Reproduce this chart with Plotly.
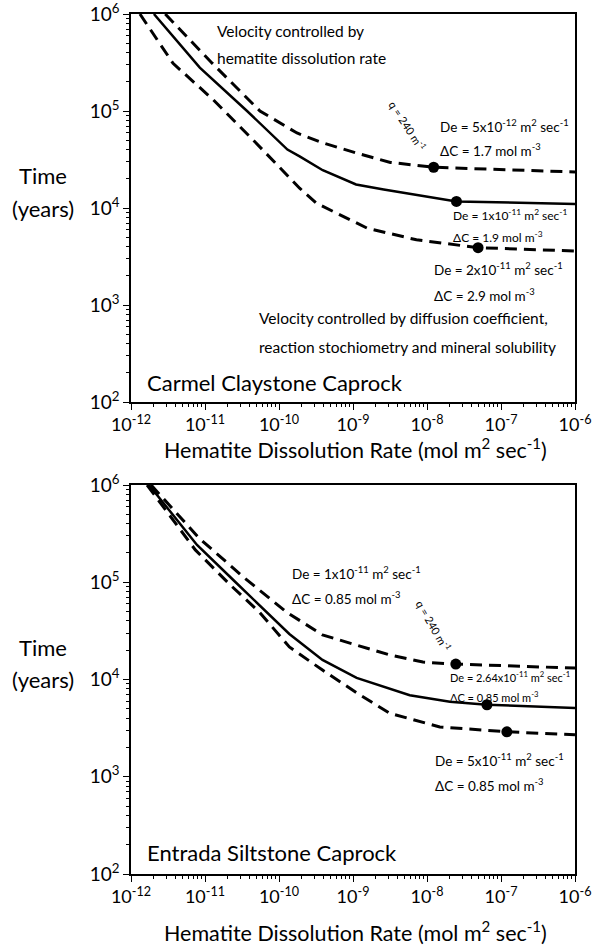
import plotly.graph_objects as go

# ---------------- data ----------------
# Carmel Claystone Caprock (top panel)
carmel_solid_rate = [2.04e-12, 8.5e-12, 3.7e-11, 1.3e-10, 1.9e-10, 3.9e-10, 1.1e-9, 2.6e-9, 2.5e-8, 1e-6]
carmel_solid_time = [1.0e6, 2.8e5, 1.0e5, 4.0e4, 3.4e4, 2.45e4, 1.75e4, 1.55e4, 1.17e4, 1.1e4]
carmel_upper_rate = [2.9e-12, 1.24e-11, 5.53e-11, 1.75e-10, 3.9e-10, 1.1e-9, 3.2e-9, 1.23e-8, 1e-6]
carmel_upper_time = [1.0e6, 3.13e5, 1.0e5, 5.93e4, 4.7e4, 3.7e4, 2.95e4, 2.63e4, 2.35e4]
carmel_lower_rate = [1.32e-12, 3.7e-12, 1.3e-11, 4.5e-11, 1.9e-10, 3.2e-10, 1.55e-9, 7.2e-9, 4.9e-8, 1e-6]
carmel_lower_time = [1.0e6, 3.1e5, 1.3e5, 5.0e4, 1.6e4, 1.12e4, 6.2e3, 4.7e3, 3.9e3, 3.6e3]
carmel_dot_rate = [1.23e-8, 2.5e-8, 4.9e-8]
carmel_dot_time = [2.63e4, 1.17e4, 3.9e3]

# Entrada Siltstone Caprock (bottom panel)
entrada_upper_rate = [1.87e-12, 8.3e-12, 3.4e-11, 1.26e-10, 3.87e-10, 1.12e-9, 3.13e-9, 8.8e-9, 2.45e-8, 1e-6]
entrada_upper_time = [1.0e6, 2.85e5, 1.11e5, 4.94e4, 2.87e4, 2.26e4, 1.79e4, 1.51e4, 1.44e4, 1.31e4]
entrada_solid_rate = [1.75e-12, 7.8e-12, 2.49e-11, 1.38e-10, 3.87e-10, 1.12e-9, 5.85e-9, 2.04e-8, 6.46e-8, 1e-6]
entrada_solid_time = [1.0e6, 2.42e5, 1.03e5, 2.94e4, 1.59e4, 1.04e4, 6.9e3, 5.9e3, 5.5e3, 5.1e3]
entrada_lower_rate = [1.65e-12, 7.4e-12, 2.19e-11, 5.42e-11, 1.38e-10, 3.87e-10, 1.12e-9, 3.13e-9, 1.49e-8, 1.2e-7, 1e-6]
entrada_lower_time = [1.0e6, 2.15e5, 9.4e4, 4.94e4, 2.16e4, 1.25e4, 7.3e3, 4.5e3, 3.25e3, 2.9e3, 2.7e3]
entrada_dot_rate = [2.45e-8, 6.46e-8, 1.2e-7]
entrada_dot_time = [1.44e4, 5.5e3, 2.9e3]

x_tick_vals = [1e-12, 1e-11, 1e-10, 1e-9, 1e-8, 1e-7, 1e-6]
x_tick_text = ["10<sup>-12</sup>", "10<sup>-11</sup>", "10<sup>-10</sup>", "10<sup>-9</sup>",
               "10<sup>-8</sup>", "10<sup>-7</sup>", "10<sup>-6</sup>"]
y_tick_vals = [1e2, 1e3, 1e4, 1e5, 1e6]
y_tick_text = ["10<sup>2</sup>", "10<sup>3</sup>", "10<sup>4</sup>", "10<sup>5</sup>", "10<sup>6</sup>"]
minor_digits = [2, 3, 4, 5, 6, 7, 8, 9]

# ---------------- figure ----------------
# the page body margin is removed (post_script below), so the figure
# fills the whole 594x945 window
W, H = 594, 945
FONT = "Lato, 'Open Sans', sans-serif"

def px_x(p):
    return p / W

def px_y(p):
    return 1 - p / H

fig = go.Figure()

DASH = "12px,7px"

def add_panel(xa, ya, solid, upper, lower, dots):
    common = dict(xaxis=xa, yaxis=ya, mode="lines", showlegend=False, hoverinfo="skip")
    fig.add_trace(go.Scatter(x=upper[0], y=upper[1], line=dict(color="black", width=3, dash=DASH), **common))
    fig.add_trace(go.Scatter(x=lower[0], y=lower[1], line=dict(color="black", width=3, dash=DASH), **common))
    fig.add_trace(go.Scatter(x=solid[0], y=solid[1], line=dict(color="black", width=2.5), **common))
    fig.add_trace(go.Scatter(x=dots[0], y=dots[1], xaxis=xa, yaxis=ya, mode="markers",
                             marker=dict(color="black", size=11), showlegend=False, hoverinfo="skip"))

add_panel("x", "y",
          (carmel_solid_rate, carmel_solid_time),
          (carmel_upper_rate, carmel_upper_time),
          (carmel_lower_rate, carmel_lower_time),
          (carmel_dot_rate, carmel_dot_time))
add_panel("x2", "y2",
          (entrada_solid_rate, entrada_solid_time),
          (entrada_upper_rate, entrada_upper_time),
          (entrada_lower_rate, entrada_lower_time),
          (entrada_dot_rate, entrada_dot_time))

x_minor = [d * v for v in x_tick_vals[:-1] for d in minor_digits]
y_minor = [d * v for v in y_tick_vals[:-1] for d in minor_digits]

xdom = [px_x(131), px_x(575)]

def axis_style(tickvals, ticktext, minor_vals, fsize):
    return dict(type="log", showline=True, linecolor="black", linewidth=1.5, mirror=True,
                ticks="outside", ticklen=6, tickwidth=1.2, tickcolor="black",
                tickmode="array", tickvals=tickvals, ticktext=ticktext,
                tickfont=dict(family=FONT, size=fsize, color="black"), showgrid=False,
                zeroline=False, automargin=False, ticklabeloverflow="allow",
                minor=dict(tickmode="array", tickvals=minor_vals, ticks="outside", ticklen=3,
                           tickwidth=1, tickcolor="black", showgrid=False))

xa = axis_style(x_tick_vals, x_tick_text, x_minor, 18)
ya = axis_style(y_tick_vals, y_tick_text, y_minor, 19)

fig.update_layout(
    width=W, height=H,
    margin=dict(l=0, r=0, t=0, b=0),
    paper_bgcolor="white", plot_bgcolor="white",
    font=dict(family=FONT, color="black"),
    xaxis=dict(anchor="y", domain=xdom, range=[-12, -6], **xa),
    yaxis=dict(anchor="x", domain=[px_y(402), px_y(14)], range=[2, 6], **ya),
    xaxis2=dict(anchor="y2", domain=xdom, range=[-12, -6], **xa),
    yaxis2=dict(anchor="x2", domain=[px_y(874), px_y(485)], range=[2, 6], **ya),
)

def note(text, x, y, size, xanchor="left", angle=0):
    fig.add_annotation(text=text, x=px_x(x), y=px_y(y), xref="paper", yref="paper",
                       xanchor=xanchor, yanchor="middle", showarrow=False, textangle=angle,
                       font=dict(family=FONT, size=size, color="black"))

SUP = lambda s: "<sup>" + s + "</sup>"

def de(v):
    return "De = " + v + " m" + SUP("2") + " sec" + SUP("-1")

def dc(v):
    return "ΔC = " + v + " mol m" + SUP("-3")

# top panel notes
note("Velocity controlled by", 215, 31, 15.5)
note("hematite dissolution rate", 215, 58, 15.5)
note("q = 240 m" + SUP("-1"), 408, 125, 11, xanchor="center", angle=57)
note(de("5x10" + SUP("-12")), 438, 126, 13.5)
note(dc("1.7"), 438, 150, 13.5)
note(de("1x10" + SUP("-11")), 451, 215, 12)
note(dc("1.9"), 451, 237, 12)
note(de("2x10" + SUP("-11")), 432, 269, 13.5)
note(dc("2.9"), 432, 295, 13.5)
note("Velocity controlled by diffusion coefficient,", 257, 318, 15.5)
note("reaction stochiometry and mineral solubility", 257, 347, 15.5)
note("Carmel Claystone Caprock", 145, 382, 22)

# bottom panel notes
note(de("1x10" + SUP("-11")), 290, 573, 13.5)
note(dc("0.85"), 290, 598, 13.5)
note("q = 240 m" + SUP("-1"), 434, 625, 11, xanchor="center", angle=60)
note(de("2.64x10" + SUP("-11")), 448, 676, 11)
note(dc("0.85"), 448, 696, 11)
note(de("5x10" + SUP("-11")), 433, 760, 13.5)
note(dc("0.85"), 433, 785, 13.5)
note("Entrada Siltstone Caprock", 145, 852, 22)

# axis titles
for (ty, yy) in [(176, 208), (647, 679)]:
    note("Time", 43, ty, 22, xanchor="center")
    note("(years)", 43, yy, 22, xanchor="center")
XT = "Hematite Dissolution Rate (mol m" + SUP("2") + " sec" + SUP("-1") + ")"
note(XT, 355, 449, 21.5, xanchor="center")
note(XT, 355, 931, 21.5, xanchor="center")

fig.write_html("out.html",
               config={"displayModeBar": False},
               post_script="document.body.style.margin='0';document.body.style.overflow='hidden';")
